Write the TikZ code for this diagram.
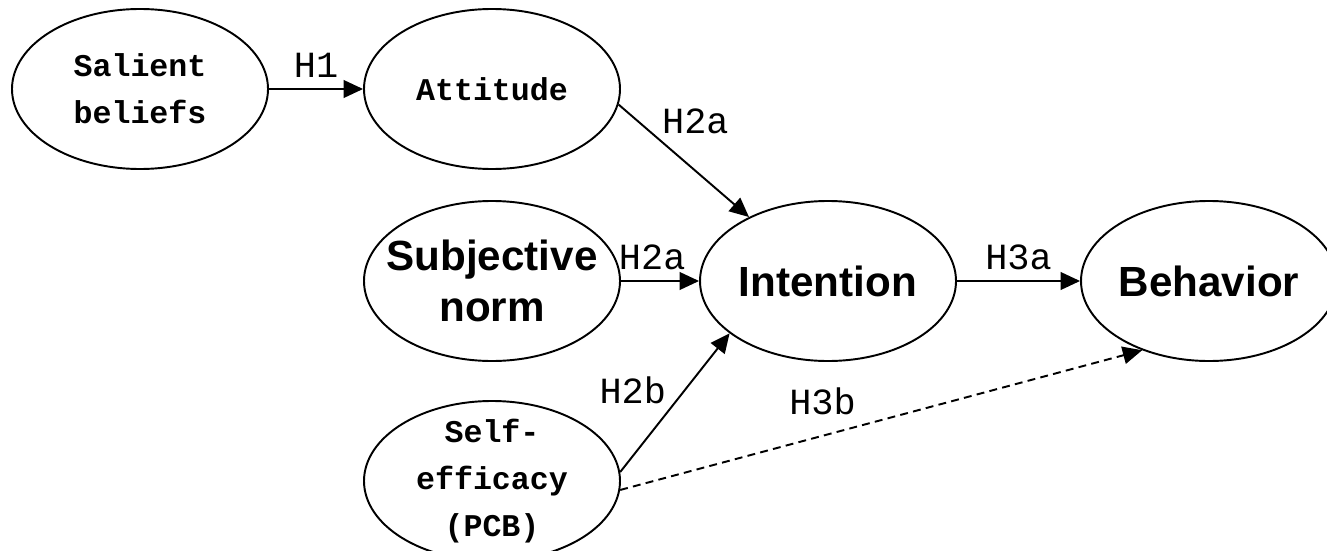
\documentclass[tikz,border=0pt]{standalone}
\usepackage{fontspec}
\setmainfont{Liberation Sans}
\newfontfamily\courierfont{Liberation Mono}
\usetikzlibrary{arrows.meta,shapes.geometric,positioning}

\begin{document}
\begin{tikzpicture}[->,>={Triangle[length=11pt,width=10pt]},line width=1.1pt,auto,
	                    node distance=6cm,on grid]
	  	\tikzstyle{construct}=[ellipse, draw, minimum width=5.12cm, minimum height=3.2cm, inner xsep=-1.5cm, inner ysep=-0.8cm, align=center]
	  	\tikzstyle{mono}=[construct, font=\courierfont\bfseries\fontsize{18}{26.6}\selectfont]
	  	\tikzstyle{sans}=[construct, font=\bfseries\fontsize{24}{29.5}\selectfont]
	  	\tikzstyle{hyp}=[font=\courierfont\fontsize{21}{24}\selectfont, inner sep=6pt]

		  \useasboundingbox (0,0) rectangle (26.54,-11);

		  \node[mono]         (sal) at (2.8,-1.78)  {Salient\\beliefs};
		  \node[mono]         (att) [right=7.04 of sal] {Attitude};
		  \node[sans]         (subj) [below=3.84 of att] {Subjective\\norm};
		  \node[sans]         (int) [right=6.72 of subj] {Intention};
		  \node[sans]         (beh) [right=7.62 of int] {Behavior};
		  \node[mono]         (self) [below=4 of subj] {Self-\\efficacy\\(PCB)};

		  \path (sal) edge              node[hyp] {H1} (att)
		        (att.-7) edge           node[hyp,pos=0.3,inner sep=2pt] {H2a} (int.141)
		        (subj) edge             node[hyp,pos=0.4] {H2a} (int)
		        (int) edge              node[hyp] {H3a} (beh)
		        (self.4) edge           node[hyp,pos=0.46,inner sep=2pt] {H2b} (int.208)
		        (self.-4) edge [dashed,dash pattern=on 4.5pt off 3pt] node[hyp,pos=0.47,inner sep=5pt] {H3b} (beh.226)
		;
		\end{tikzpicture}
\end{document}
